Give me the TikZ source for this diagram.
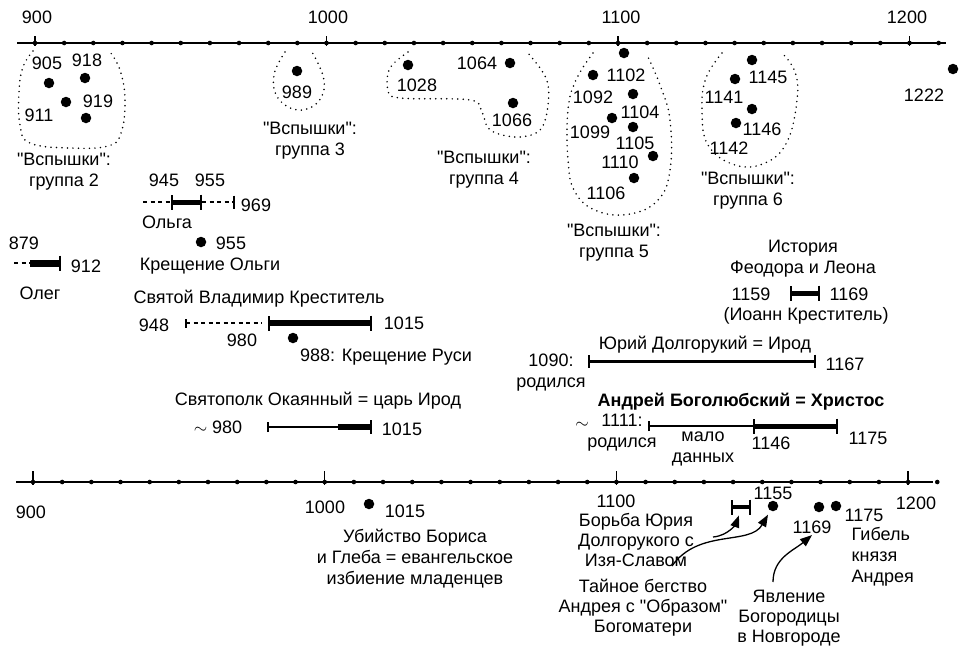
\documentclass[tikz,border=0pt]{standalone}
\usepackage{fontspec}
\setmainfont{Liberation Sans}[Ligatures=TeXOff]
\usetikzlibrary{arrows.meta}
\tikzset{
  txt/.style={font=\fontsize{18}{21}\selectfont, inner sep=1pt, align=center},
  ev/.style={circle, fill, inner sep=0pt, minimum size=10.5pt},
  flash/.style={line width=1.7pt, dash pattern=on 0pt off 5.5pt, line cap=round},
  guess/.style={line width=1.2pt, dash pattern=on 4pt off 3.5pt},
  reign/.style={line width=6pt},
  ends/.style={{Bar[width=15pt,line width=1.6pt]}-{Bar[width=15pt,line width=1.6pt]}},
  pointer/.style={-{Triangle[length=12pt,width=9pt]}, line width=1.3pt}
}
\begin{document}
\begin{tikzpicture}[x=1pt, y=-1pt, line width=1.4pt]
  \useasboundingbox (0,0) rectangle (966,654);
  \draw (17,43) -- (946,43);
  \foreach \k in {0,...,31} \fill ({35+29.15*\k},43) circle (2.3pt);
  \foreach \k in {0,10,20,30} \draw ({35+29.15*\k},36) -- ({35+29.15*\k},46);
  \node[txt] (t900) at (37,17) {900};
  \node[txt] (t1000) at (328,17) {1000};
  \node[txt] (t1100) at (621,17) {1100};
  \node[txt] (t1200) at (907,17) {1200};
  % group 2
  \draw[flash] plot[smooth, tension=0.7] coordinates {(33,51) (23,67) (19,92) (20,125) (30,143) (70,148) (108,146) (121,133) (125,100) (120,70) (110,52)};
  \node[ev] (e905) at (49,83) {};
  \node[ev] (e918) at (85,78) {};
  \node[ev] (e911) at (66,102) {};
  \node[ev] (e919) at (86,118) {};
  \node[txt] (l905) at (47,63) {905};
  \node[txt] (l918) at (87,60) {918};
  \node[txt] (l911) at (39,115) {911};
  \node[txt] (l919) at (98,101) {919};
  \node[txt] (g2) at (64,172) {"Вспышки":\\группа 2};
  % group 3
  \draw[flash] plot[smooth, tension=0.7] coordinates {(285,52) (274,75) (278,98) (298,110) (318,102) (324,80) (312,52)};
  \node[ev] (e989) at (297,71) {};
  \node[txt] (l989) at (297,92) {989};
  \node[txt] (g3) at (310,141) {"Вспышки":\\группа 3};
  % group 4
  \draw[flash] plot[smooth, tension=0.6] coordinates {(408,52) (390,68) (388,90) (400,98) (470,100) (482,112) (490,130) (517,137) (540,130) (548,105) (546,78) (527,52)};
  \node[ev] (e1028) at (408,65) {};
  \node[ev] (e1064) at (510,63) {};
  \node[ev] (e1066) at (513,103) {};
  \node[txt] (l1028) at (417,85) {1028};
  \node[txt] (l1064) at (477,63) {1064};
  \node[txt] (l1066) at (512,120) {1066};
  \node[txt] (g4) at (484,170) {"Вспышки":\\группа 4};
  % group 5
  \draw[flash] plot[smooth, tension=0.7] coordinates {(593,53) (576,80) (568,110) (568,160) (575,192) (597,211) (630,214) (658,200) (670,170) (670,120) (660,85) (647,55)};
  \node[ev] (e1102) at (624,53) {};
  \node[ev] (e1092) at (593,75) {};
  \node[ev] (e1104) at (633,94) {};
  \node[ev] (e1099) at (612,118) {};
  \node[ev] (e1105) at (633,127) {};
  \node[ev] (e1110) at (653,156) {};
  \node[ev] (e1106) at (634,178) {};
  \node[txt] (l1102) at (626,75) {1102};
  \node[txt] (l1092) at (593,97) {1092};
  \node[txt] (l1104) at (640,112) {1104};
  \node[txt] (l1099) at (590,132) {1099};
  \node[txt] (l1105) at (635,143) {1105};
  \node[txt] (l1110) at (620,162) {1110};
  \node[txt] (l1106) at (606,193) {1106};
  \node[txt] (g5) at (614,243) {"Вспышки":\\группа 5};
  % group 6
  \draw[flash] plot[smooth, tension=0.7] coordinates {(722,53) (706,78) (702,110) (708,145) (735,165) (765,163) (787,142) (797,100) (795,72) (782,53)};
  \node[ev] (e1145) at (752,60) {};
  \node[ev] (e1141) at (735,79) {};
  \node[ev] (e1146) at (752,109) {};
  \node[ev] (e1142) at (736,123) {};
  \node[txt] (l1145) at (768,77) {1145};
  \node[txt] (l1141) at (724,97) {1141};
  \node[txt] (l1146) at (762,129) {1146};
  \node[txt] (l1142) at (729,148) {1142};
  \node[txt] (g6) at (748,191) {"Вспышки":\\группа 6};
  \node[ev] (e1222) at (953,69) {};
  \node[txt] (l1222) at (924,95) {1222};
  % Olga
  \draw[guess] (143,202) -- (171,202);
  \draw[reign, line width=5pt, ends] (171,202) -- (202,202);
  \draw[guess, -{Bar[width=13pt,line width=1.6pt]}] (202,202) -- (235,202);
  \node[txt] (l945) at (164,180) {945};
  \node[txt] (l955a) at (210,180) {955};
  \node[txt] (l969) at (256,205) {969};
  \node[txt] (olga) at (167,222) {Ольга};
  \node[ev] (e955) at (201,242) {};
  \node[txt] (l955) at (231,243) {955};
  \node[txt] (kreshol) at (210,266) {Крещение Ольги};
  % Oleg
  \draw[guess] (14,263) -- (30,263);
  \draw[reign, line width=7pt, -{Bar[width=15pt,line width=1.6pt]}] (30,263) -- (61,263);
  \node[txt] (l879) at (24,243) {879};
  \node[txt] (l912) at (86,266) {912};
  \node[txt] (oleg) at (40,293) {Олег};
  % Vladimir
  \draw[guess, {Bar[width=9pt,line width=1.6pt]}-] (185,323) -- (262,323);
  \draw[reign, ends] (268,323) -- (372,323);
  \node[txt] (vlad) at (259,299) {Святой Владимир Креститель};
  \node[txt] (l948) at (154,325) {948};
  \node[txt] (l1015a) at (404,323) {1015};
  \node[txt] (l980a) at (242,340) {980};
  \node[ev] (e988) at (293,338) {};
  \node[txt] (kreshrus) at (386,357) {988: Крещение Руси};
  % Svyatopolk
  \draw[line width=1.2pt, {Bar[width=10pt,line width=1.6pt]}-] (267,427) -- (340,427);
  \draw[reign, -{Bar[width=14pt,line width=1.6pt]}] (338,427) -- (372,427);
  \node[txt] (svyat) at (318,401) {Святополк Окаянный = царь Ирод};
  \node[txt] (l980b) at (218,427) {$\sim$ 980};
  \node[txt] (l1015b) at (402,429) {1015};
  % Feodor and Leon
  \node[txt] (istor) at (803,259) {История\\Феодора и Леона};
  \draw[reign, line width=5pt, ends] (790,293) -- (820,293);
  \node[txt] (l1159) at (751,294) {1159};
  \node[txt] (l1169a) at (849,294) {1169};
  \node[txt] (ioann) at (806,316) {(Иоанн Креститель)};
  % Yuri
  \node[txt] (yuri) at (705,345) {Юрий Долгорукий = Ирод};
  \draw[line width=3pt, {Bar[width=13pt,line width=1.6pt]}-{Bar[width=13pt,line width=1.6pt]}] (588,361) -- (816,361);
  \node[txt] (l1090) at (551,373) {1090:\\родился};
  \node[txt] (l1167) at (845,364) {1167};
  % Andrei
  \node[txt, font=\fontsize{18}{21}\selectfont\bfseries] (andr) at (741,402) {Андрей Боголюбский = Христос};
  \draw[line width=1.2pt, {Bar[width=10pt,line width=1.6pt]}-] (648,426) -- (753,426);
  \draw[reign, line width=5pt, ends] (753,426) -- (838,426);
  \node[txt] (tld) at (582,425) {$\sim$};
  \node[txt] (l1111) at (622,433) {1111:\\родился};
  \node[txt] (malo) at (703,449) {мало\\данных};
  \node[txt] (l1146b) at (771,443) {1146};
  \node[txt] (l1175a) at (868,438) {1175};
  % bottom axis
  \draw (16,482) -- (933,482);
  \foreach \k in {0,...,31} \fill ({33+29.17*\k},482) circle (2.3pt);
  \foreach \k in {0,10,20,30} \draw ({33+29.17*\k},471) -- ({33+29.17*\k},485);
  \node[txt] (b900) at (31,512) {900};
  \node[txt] (b1000) at (325,507) {1000};
  \node[txt, inner sep=0pt] (b1100) at (616,501) {1100};
  \node[txt] (b1200) at (916,503) {1200};
  \node[ev] (e1015) at (369,504) {};
  \node[txt] (l1015c) at (405,511) {1015};
  \node[txt] (ubiy) at (415,559) {Убийство Бориса\\и Глеба = евангельское\\избиение младенцев};
  \draw[line width=3.5pt, ends] (731,507) -- (751,507);
  \coordinate (bbar) at (742,507);
  \node[ev] (e1155) at (773,506) {};
  \node[txt] (l1155) at (773,493) {1155};
  \node[ev] (e1169) at (819,507) {};
  \node[ev] (e1175) at (836,506) {};
  \node[txt] (l1169) at (812,527) {1169};
  \node[txt] (l1175) at (864,515) {1175};
  \node[txt, align=left, anchor=west] (gibel) at (850,557) {Гибель\\князя\\Андрея};
  \node[txt, font=\fontsize{18}{20}\selectfont, inner sep=0pt] (borba) at (636,540) {Борьба Юрия\\Долгорукого с\\Изя-Славом};
  \node[txt, font=\fontsize{18}{20}\selectfont] (begstvo) at (643,608) {Тайное бегство\\Андрея с "Образом"\\Богоматери};
  \node[txt, font=\fontsize{18}{20}\selectfont] (yavl) at (789,618) {Явление\\Богородицы\\в Новгороде};
  \coordinate (from1) at (713,537);
  \coordinate (from2) at (672,566);
  \coordinate (from3) at (773,582);
  \draw[pointer, shorten >=9pt] (from1) to[out=5, in=-110] (bbar);
  \draw[pointer, shorten >=10pt] (from2) to[out=55, in=-120] (e1155.center);
  \draw[pointer] (from3) to[out=90, in=-140] (l1169.south);
\end{tikzpicture}
\end{document}
